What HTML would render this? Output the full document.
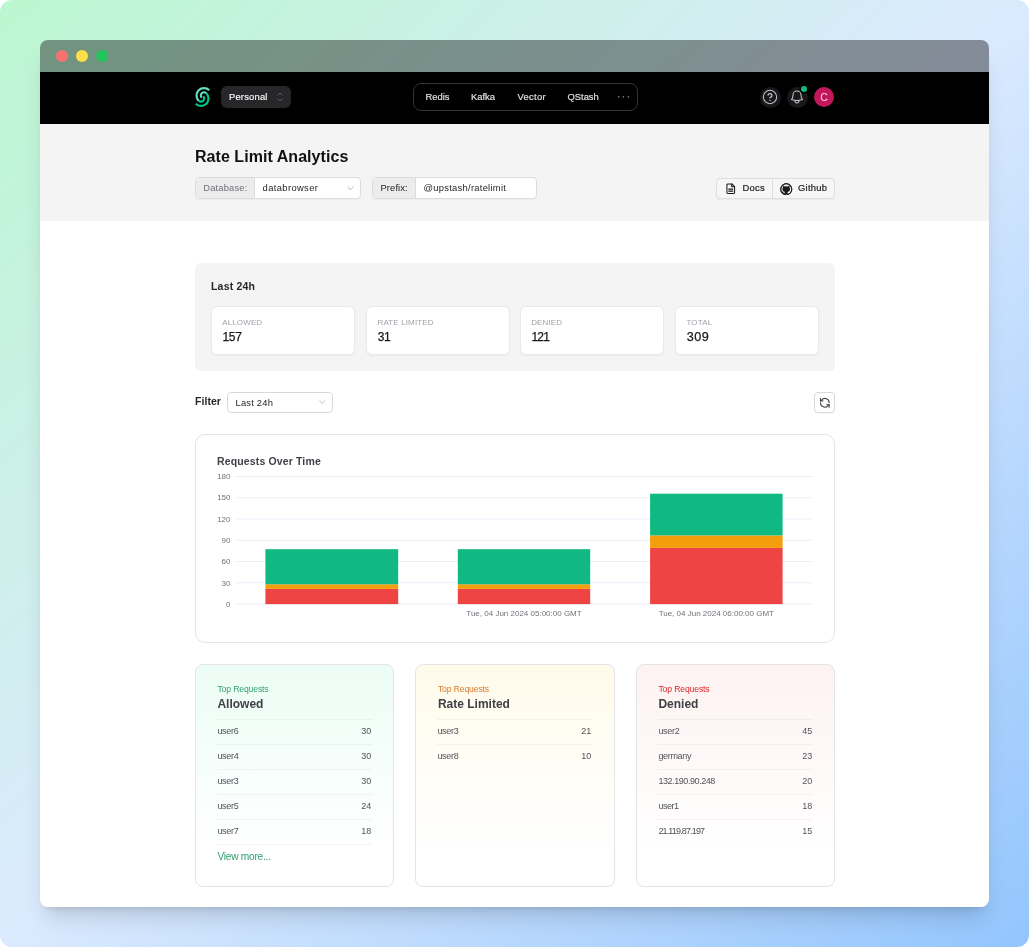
<!DOCTYPE html>
<html lang="en">
<head>
<meta charset="utf-8">
<title>Rate Limit Analytics</title>
<style>
*{box-sizing:border-box;margin:0;padding:0}
html,body{width:1029px;height:947px;overflow:hidden;background:#fff}
body{font-family:"Liberation Sans",Arial,sans-serif;color:#18181b}
.stage{position:absolute;left:0;top:0;width:1029px;height:947px;border-radius:12px;
  background:linear-gradient(to bottom right,#bbf7d0 0%,#dbeafe 50%,#93c5fd 100%);overflow:hidden}
.winwrap{position:absolute;left:40px;top:40px;width:949px;height:867px;border-radius:8px;box-shadow:0 16px 22px -5px rgba(0,0,0,.13),0 7px 9px -6px rgba(0,0,0,.13)}
.win{position:absolute;left:40px;top:40px;width:949px;height:867px;border-radius:8px;overflow:hidden}
.pg{position:absolute;left:-40px;top:-40px;width:1029px;height:947px}
.pg *{position:absolute;white-space:nowrap}
.pg svg *{position:static}
.tbar{left:40px;top:40px;width:949px;height:32px;background:rgba(0,0,0,.4)}
.tbar i{top:10px;width:12px;height:12px;border-radius:50%}
.nav{left:40px;top:72px;width:949px;height:52px;background:#000}
.head{left:40px;top:124px;width:949px;height:97px;background:#f4f4f4}
.body{left:40px;top:221px;width:949px;height:686px;background:#fff}
/* nav */
.team{left:221px;top:86px;width:70px;height:22px;border-radius:6px;background:#27272a}
.team span{-webkit-text-stroke:.15px #fafafa;left:8px;top:0;line-height:22px;font-size:9.4px;color:#fafafa;letter-spacing:.2px}
.pill{left:413px;top:83px;width:225px;height:28px;border:1px solid #333;border-radius:8px}
.nl{-webkit-text-stroke:.15px #e4e4e7;top:83px;line-height:28px;font-size:9.4px;color:#e4e4e7}
.cbtn{top:86.500px;width:21px;height:21px;border-radius:50%;background:#18181b}
/* header */
h1{left:195px;top:146.700px;font-size:16px;line-height:20px;font-weight:700;color:#111;letter-spacing:.05px}
.grp{top:177px;height:22px;border:1px solid #dcdcde;border-radius:4px;background:#fff;overflow:hidden;box-shadow:0 1px 1px rgba(0,0,0,.03)}
.grp .lb{left:0;top:0;height:20px;background:#ececec;border-right:1px solid #dcdcde;line-height:20px;font-size:9.400px}
.grp .val{top:0;line-height:20px;font-size:9.400px;color:#27272a}
.btns{left:716px;top:178px;width:119px;height:21px;border:1px solid #dedee0;border-radius:4px;background:#f6f6f6;box-shadow:0 1px 1px rgba(0,0,0,.04)}
.btns span{-webkit-text-stroke:.2px #222;top:-.8px;line-height:19px;font-size:9.400px;color:#222;letter-spacing:.25px}
/* stats */
.panel{left:195px;top:263px;width:640px;height:108px;background:#f4f4f4;border-radius:6px}
.ptitle{left:211px;top:280px;font-size:10.500px;line-height:13px;font-weight:700;color:#27272a;letter-spacing:.2px}
.card{top:306px;width:143.500px;height:48.500px;background:#fff;border:1px solid #e9e9eb;border-radius:6px;box-shadow:0 1px 2px rgba(0,0,0,.04)}
.card small{left:10.200px;top:10.700px;font-size:8px;line-height:9px;color:#a1a1aa;letter-spacing:.14px}
.card b{left:10.400px;top:22.500px;font-size:12px;line-height:14px;font-weight:400;color:#18181b;letter-spacing:-.3px;-webkit-text-stroke:.25px #18181b}
.flabel{left:195px;top:395px;font-size:10.500px;line-height:13px;font-weight:700;color:#27272a;letter-spacing:.05px}
.fsel{left:227px;top:392px;width:106px;height:20.500px;border:1px solid #d9d9dc;border-radius:4px;background:#fff}
.fsel span{left:7.500px;top:0;line-height:19px;font-size:9.400px;color:#27272a;letter-spacing:.2px}
.rbtn{left:814px;top:392px;width:21px;height:21px;border:1px solid #d9d9dc;border-radius:4px;background:#fff;box-shadow:0 1px 1px rgba(0,0,0,.04)}
/* chart */
.chart{left:195px;top:434px;width:640px;height:208.500px;border:1px solid #e4e4e7;border-radius:10px;background:#fff}
.ctitle{left:217px;top:454.500px;font-size:10.500px;line-height:13px;font-weight:700;color:#3f3f46;letter-spacing:.14px}
.pg svg text{font-family:"Liberation Sans",Arial,sans-serif;font-size:8px;fill:#71717a}
/* top lists */
.top{top:664px;width:199px;height:222.500px;border:1px solid #e4e4e7;border-radius:8px}
.top small{left:21.400px;top:19.300px;font-size:8.600px;line-height:10px;letter-spacing:-.12px}
.top h2{left:21.400px;top:32px;font-size:12px;line-height:15px;font-weight:700;color:#3f3f46}
.top ul{left:21px;top:54px;width:155px;list-style:none}
.top li{left:0;width:155px;height:25px;border-top:1px solid rgba(40,50,80,.05);font-size:9px;line-height:22.600px;color:#52525b}
.top li span{left:.4px;top:0}
.top li em{right:.7px;top:0;font-style:normal}
.top a{left:21px;top:179px;width:155px;height:25px;border-top:1px solid rgba(40,50,80,.05);padding-left:.4px;font-size:10.200px;line-height:23px;letter-spacing:-.26px;color:#2f9e6e;text-decoration:none}
</style>
</head>
<body>
<div class="stage">
 <div class="winwrap"></div>
 <div class="win"><div class="pg">
  <div class="tbar"><i style="left:16px;background:#f87171"></i><i style="left:36px;background:#fde047"></i><i style="left:56px;background:#22c55e"></i></div>
  <nav class="nav"></nav>
  <header class="head"></header>
  <main class="body"></main>

  <!-- NAV -->
  <svg style="left:195px;top:87px" width="15" height="20" viewBox="0 0 256 341">
   <path fill="#00c98d" d="M0 298.417c56.554 56.553 148.247 56.553 204.801 0 56.554-56.554 56.554-148.247 0-204.801l-25.600 25.600c42.415 42.416 42.415 111.185 0 153.600-42.416 42.416-111.185 42.416-153.601 0L0 298.416Z"/>
   <path fill="#00c98d" d="M51.200 247.216c28.277 28.277 74.123 28.277 102.400 0 28.277-28.276 28.277-74.123 0-102.400l-25.600 25.600c14.140 14.138 14.140 37.061 0 51.200-14.138 14.139-37.061 14.139-51.200 0l-25.600 25.600Z"/>
   <path fill="#66dfbb" d="M256 42.415c-56.554-56.553-148.247-56.553-204.800 0-56.555 56.555-56.555 148.247 0 204.801l25.599-25.600c-42.415-42.415-42.415-111.185 0-153.600 42.416-42.416 111.185-42.416 153.600 0L256 42.416Z"/>
   <path fill="#66dfbb" d="M204.800 93.616c-28.276-28.277-74.124-28.277-102.400 0-28.278 28.277-28.278 74.123 0 102.400l25.600-25.600c-14.140-14.138-14.140-37.061 0-51.200 14.138-14.139 37.060-14.139 51.200 0l25.600-25.600Z"/>
  </svg>
  <div class="team"><span>Personal</span>
   <svg style="left:56px;top:6px" width="6" height="10" viewBox="0 0 6 10" fill="none" stroke="#5f5f68" stroke-width="1" stroke-linecap="round" stroke-linejoin="round"><path d="M.8 3.300 3 1l2.200 2.300M.8 6.700 3 9l2.200-2.300"/></svg>
  </div>
  <div class="pill"></div>
  <span class="nl" style="left:425.500px">Redis</span>
  <span class="nl" style="left:471px">Kafka</span>
  <span class="nl" style="left:517.500px;letter-spacing:.3px">Vector</span>
  <span class="nl" style="left:567.500px">QStash</span>
  <span class="nl" style="left:617px;color:#52525b;letter-spacing:1.5px;font-size:10px">···</span>

  <div class="cbtn" style="left:760px"><svg style="left:1.900px;top:2.700px" width="16" height="16" viewBox="0 0 24 24" fill="none" stroke="#c4c4c8" stroke-width="1.550" stroke-linecap="round" stroke-linejoin="round"><circle cx="12" cy="12" r="10"/><path stroke-width="2" d="M9.090 9a3 3 0 0 1 5.830 1c0 2-3 3-3 3"/><path stroke-width="2.300" d="M12 17h.010"/></svg></div>
  <div class="cbtn" style="left:786.500px"><svg style="left:2.500px;top:2.500px" width="16" height="16" viewBox="0 0 24 24" fill="none" stroke="#c4c4c8" stroke-width="1.550" stroke-linecap="round" stroke-linejoin="round"><path d="M14.857 17.082a23.848 23.848 0 0 0 5.454-1.310A8.967 8.967 0 0 1 18 9.750V9A6 6 0 0 0 6 9v.750a8.967 8.967 0 0 1-2.312 6.022c1.733.640 3.560 1.085 5.455 1.310m5.714 0a24.255 24.255 0 0 1-5.714 0m5.714 0a3 3 0 1 1-5.714 0"/></svg>
   <i style="left:14.700px;top:-.6px;width:6px;height:6px;border-radius:50%;background:#10b981;box-shadow:0 0 0 1.500px #000"></i></div>
  <div class="cbtn" style="left:814px;top:87px;width:20px;height:20px;background:#c2185b"><span style="left:0;width:20px;text-align:center;line-height:20px;font-size:10.500px;color:#fbd5e3">C</span></div>
  <!-- HEADER -->
  <h1>Rate Limit Analytics</h1>
  <div class="grp" style="left:195px;width:166px">
   <span class="lb" style="width:58.500px;padding-left:7.300px;color:#71717a;letter-spacing:.15px">Database:</span>
   <span class="val" style="left:66.600px;letter-spacing:.37px">databrowser</span>
   <svg style="left:151px;top:7.500px" width="7" height="5.250" viewBox="0 0 8 6" fill="none" stroke="#b4b4b8" stroke-width="1" stroke-linecap="round" stroke-linejoin="round"><path d="M1 1l3 3.500L7 1"/></svg>
  </div>
  <div class="grp" style="left:372px;width:165px">
   <span class="lb" style="width:42.600px;padding-left:7.500px;color:#222;letter-spacing:.1px">Prefix:</span>
   <span class="val" style="left:50.500px;letter-spacing:.27px">@upstash/ratelimit</span>
  </div>
  <div class="btns">
   <i style="left:55px;top:0;width:1px;height:19px;background:#dedee0"></i>
   <svg style="left:7.800px;top:4.200px" width="11.500" height="11.500" viewBox="0 0 24 24" fill="none" stroke="#18181b" stroke-width="2.200" stroke-linecap="round" stroke-linejoin="round"><path d="M14.500 2H6a2 2 0 0 0-2 2v16a2 2 0 0 0 2 2h12a2 2 0 0 0 2-2V7.500L14.500 2z"/><path d="M14 2v6h6"/><path d="M16 13H8M16 17H8" stroke-width="2.600"/></svg>
   <span style="left:25.500px">Docs</span>
   <svg style="left:63px;top:3.500px" width="12.500" height="12.500" viewBox="0 0 24 24" fill="#18181b"><path fill-rule="evenodd" d="M12 2.300a9.700 9.700 0 1 0 0 19.400 9.700 9.700 0 0 0 0-19.400zM12 .5C5.650.5.500 5.650.500 12c0 5.080 3.290 9.390 7.860 10.910.570.100.780-.250.780-.550 0-.270-.010-1.170-.020-2.120-3.200.700-3.870-1.360-3.870-1.360-.520-1.330-1.280-1.680-1.280-1.680-1.040-.710.080-.700.080-.700 1.150.080 1.760 1.180 1.760 1.180 1.020 1.760 2.690 1.250 3.340.960.100-.740.400-1.250.730-1.540-2.550-.290-5.240-1.280-5.240-5.680 0-1.250.450-2.280 1.180-3.080-.120-.290-.510-1.460.110-3.040 0 0 .960-.310 3.160 1.180a10.900 10.900 0 0 1 5.760 0c2.190-1.490 3.160-1.180 3.160-1.180.620 1.580.230 2.750.110 3.040.740.800 1.180 1.830 1.180 3.080 0 4.410-2.690 5.380-5.250 5.670.410.360.780 1.060.780 2.130 0 1.540-.010 2.780-.010 3.160 0 .310.210.660.790.550C20.210 21.390 23.500 17.080 23.500 12 23.500 5.650 18.350.5 12 .5z"/><circle cx="12" cy="12" r="10.600" fill="none" stroke="#18181b" stroke-width="1.800"/></svg>
   <span style="left:81px">Github</span>
  </div>

  <!-- STATS -->
  <section class="panel"></section>
  <div class="ptitle">Last 24h</div>
  <div class="card" style="left:211px"><small>ALLOWED</small><b>157</b></div>
  <div class="card" style="left:366.300px"><small>RATE LIMITED</small><b>31</b></div>
  <div class="card" style="left:520px;width:144px"><small>DENIED</small><b style="letter-spacing:-.8px">121</b></div>
  <div class="card" style="left:675.300px"><small>TOTAL</small><b style="letter-spacing:.55px;font-size:12.600px">309</b></div>
  <div class="flabel">Filter</div>
  <div class="fsel"><span>Last 24h</span>
   <svg style="left:91px;top:6.800px" width="6.500" height="4.900" viewBox="0 0 8 6" fill="none" stroke="#b4b4b8" stroke-width="1" stroke-linecap="round" stroke-linejoin="round"><path d="M1 1l3 3.500L7 1"/></svg>
  </div>
  <div class="rbtn"><svg style="left:3.700px;top:3.700px" width="11.600" height="11.600" viewBox="0 0 24 24" fill="none" stroke="#3f3f46" stroke-width="2.200" stroke-linecap="round" stroke-linejoin="round"><path d="M21 12a9 9 0 0 0-15.500-6.200L3 8"/><path d="M3 3v5h5"/><path d="M3 12a9 9 0 0 0 15.500 6.200L21 16"/><path d="M21 21v-5h-5"/></svg></div>

  <!-- CHART -->
  <section class="chart"></section>
  <div class="ctitle">Requests Over Time</div>
  <svg style="left:0;top:0" width="1029" height="947" viewBox="0 0 1029 947"><line x1="236" x2="812.300" y1="476.50" y2="476.50" stroke="#ebeef8" stroke-width="1"/><line x1="236" x2="812.300" y1="497.77" y2="497.77" stroke="#ebeef8" stroke-width="1"/><line x1="236" x2="812.300" y1="519.03" y2="519.03" stroke="#ebeef8" stroke-width="1"/><line x1="236" x2="812.300" y1="540.30" y2="540.30" stroke="#ebeef8" stroke-width="1"/><line x1="236" x2="812.300" y1="561.57" y2="561.57" stroke="#ebeef8" stroke-width="1"/><line x1="236" x2="812.300" y1="582.84" y2="582.84" stroke="#ebeef8" stroke-width="1"/><line x1="236" x2="812.300" y1="604.10" y2="604.10" stroke="#ebeef8" stroke-width="1"/><text x="230.500" y="479.20" text-anchor="end">180</text><text x="230.500" y="500.47" text-anchor="end">150</text><text x="230.500" y="521.73" text-anchor="end">120</text><text x="230.500" y="543.00" text-anchor="end">90</text><text x="230.500" y="564.27" text-anchor="end">60</text><text x="230.500" y="585.54" text-anchor="end">30</text><text x="230.500" y="606.80" text-anchor="end">0</text><rect x="265.4" y="588.9" width="132.8" height="15.20" fill="#ef4444"/><rect x="265.4" y="584.3" width="132.8" height="4.60" fill="#f59e0b"/><rect x="265.4" y="549.2" width="132.8" height="35.10" fill="#10b981"/><rect x="457.8" y="588.9" width="132.4" height="15.20" fill="#ef4444"/><rect x="457.8" y="584.3" width="132.4" height="4.60" fill="#f59e0b"/><rect x="457.8" y="549.2" width="132.4" height="35.10" fill="#10b981"/><rect x="650.1" y="547.9" width="132.5" height="56.20" fill="#ef4444"/><rect x="650.1" y="535.4" width="132.5" height="12.50" fill="#f59e0b"/><rect x="650.1" y="493.7" width="132.5" height="41.70" fill="#10b981"/><text x="524" y="616" text-anchor="middle">Tue, 04 Jun 2024 05:00:00 GMT</text><text x="716.300" y="616" text-anchor="middle">Tue, 04 Jun 2024 06:00:00 GMT</text></svg>

  <!-- TOP LISTS -->
  <section class="top" style="left:195px;background:linear-gradient(#ecfdf5,#fff 85%)">
   <small style="color:#2f9e6e">Top Requests</small><h2>Allowed</h2>
   <ul><li style="top:0px"><span style="letter-spacing:-0.3px">user6</span><em>30</em></li><li style="top:25px"><span style="letter-spacing:-0.3px">user4</span><em>30</em></li><li style="top:50px"><span style="letter-spacing:-0.3px">user3</span><em>30</em></li><li style="top:75px"><span style="letter-spacing:-0.3px">user5</span><em>24</em></li><li style="top:100px"><span style="letter-spacing:-0.3px">user7</span><em>18</em></li></ul>
   <a>View more...</a>
  </section>
  <section class="top" style="left:415px;width:200px;background:linear-gradient(#fffbeb,#fff 85%)">
   <small style="color:#d9772a;left:21.900px">Top Requests</small><h2 style="left:21.900px">Rate Limited</h2>
   <ul><li style="top:0px"><span style="letter-spacing:-0.3px">user3</span><em>21</em></li><li style="top:25px"><span style="letter-spacing:-0.3px">user8</span><em>10</em></li></ul>
  </section>
  <section class="top" style="left:636px;background:linear-gradient(#fef2f2,#fff 85%)">
   <small style="color:#dc2626">Top Requests</small><h2>Denied</h2>
   <ul><li style="top:0px"><span style="letter-spacing:-0.3px">user2</span><em>45</em></li><li style="top:25px"><span style="letter-spacing:-.33px">germany</span><em>23</em></li><li style="top:50px"><span style="letter-spacing:-0.43px">132.190.90.248</span><em>20</em></li><li style="top:75px"><span style="letter-spacing:-.5px">user1</span><em>18</em></li><li style="top:100px"><span style="letter-spacing:-0.85px">21.119.87.197</span><em>15</em></li></ul>
  </section>

 </div></div>
</div>
</body>
</html>
